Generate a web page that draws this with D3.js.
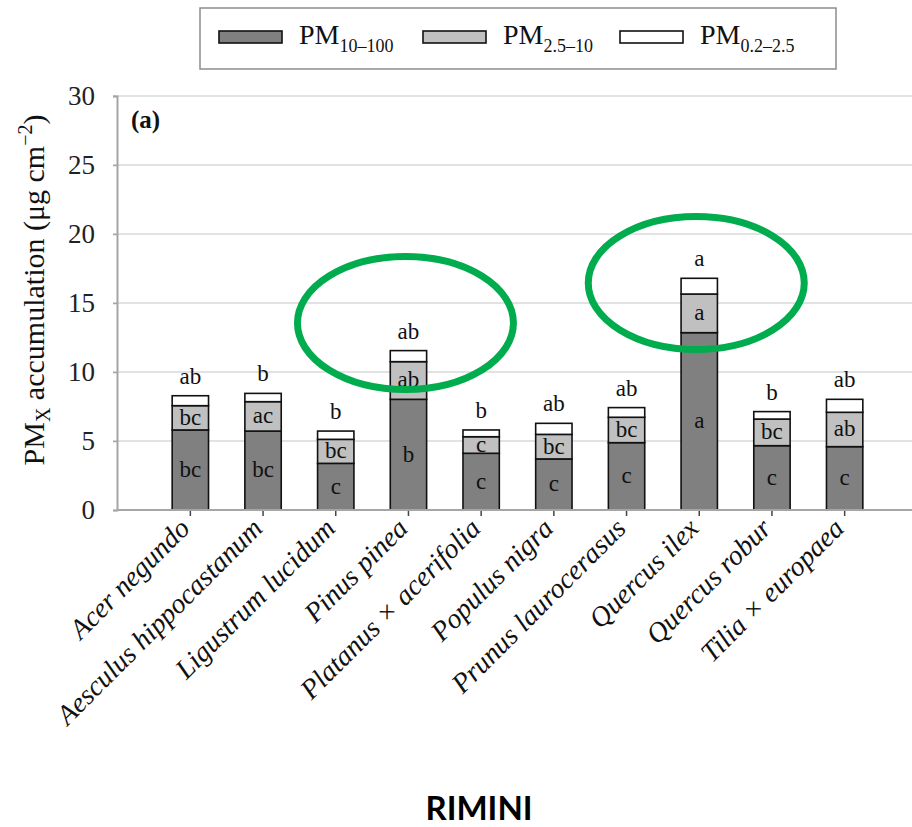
<!DOCTYPE html>
<html>
<head>
<meta charset="utf-8">
<script src="https://cdn.jsdelivr.net/npm/d3@7"></script>
<style>
  html, body { margin: 0; padding: 0; background: #fff; }
  svg { display: block; }
</style>
</head>
<body>
<svg id="chart" width="912" height="827"></svg>
<script>
// ---- data ----
const species = ["Acer negundo", "Aesculus hippocastanum", "Ligustrum lucidum", "Pinus pinea",
  "Platanus \u00d7 acerifolia", "Populus nigra", "Prunus laurocerasus", "Quercus ilex",
  "Quercus robur", "Tilia \u00d7 europaea"];
const pm10_100 = [5.80, 5.72, 3.38, 8.02, 4.11, 3.70, 4.88, 12.85, 4.66, 4.59];
const pm25_10  = [1.76, 2.13, 1.74, 2.73, 1.20, 1.78, 1.84, 2.80, 1.93, 2.49];
const pm02_25  = [0.72, 0.60, 0.60, 0.80, 0.49, 0.80, 0.70, 1.14, 0.54, 0.94];
const letters10_100 = ["bc", "bc", "c", "b", "c", "c", "c", "a", "c", "c"];
const letters25_10  = ["bc", "ac", "bc", "ab", "c", "bc", "bc", "a", "bc", "ab"];
const lettersTotal  = ["ab", "b", "b", "ab", "b", "ab", "ab", "a", "b", "ab"];
const yTicks = [0, 5, 10, 15, 20, 25, 30];
const seriesKeys = ["pm10_100", "pm25_10", "pm02_25"];
const seriesNames = [["PM", "10\u2013100"], ["PM", "2.5\u201310"], ["PM", "0.2\u20132.5"]];
const seriesColors = ["#808080", "#c0c0c0", "#ffffff"];
// highlighted species (annotation ellipses): [species, centre value]
const highlights = [["Pinus pinea", 13.55], ["Quercus ilex", 16.45]];

const rows = species.map((s, i) => ({
  species: s, pm10_100: pm10_100[i], pm25_10: pm25_10[i], pm02_25: pm02_25[i]
}));

const svg = d3.select("#chart");
const serif = "'Liberation Serif', 'DejaVu Serif', serif";

const x = d3.scaleBand().domain(species).range([154, 881]).paddingInner(0.5).paddingOuter(0.25);
const y = d3.scaleLinear().domain([0, 30]).range([510, 96]);
const plotLeft = 117, plotRight = 912;

// gridlines
svg.append("g").selectAll("line").data(yTicks.filter(d => d > 0)).join("line")
  .attr("x1", plotLeft - 4).attr("x2", plotRight)
  .attr("y1", d => y(d)).attr("y2", d => y(d))
  .attr("stroke", "#d9d9d9").attr("stroke-width", 1.5);

// y axis
const yAxis = svg.append("g").attr("transform", `translate(${plotLeft},0)`)
  .call(d3.axisLeft(y).tickValues(yTicks).tickSize(4).tickPadding(18));
yAxis.select(".domain").attr("stroke", "#a6a6a6").attr("stroke-width", 2);
yAxis.selectAll(".tick line").attr("stroke", "#a6a6a6").attr("stroke-width", 1.5);
yAxis.selectAll(".tick text").attr("font-family", serif).attr("font-size", 27).attr("fill", "#222");

// stacked bars
const stack = d3.stack().keys(seriesKeys);
const stacked = stack(rows);
const gBars = svg.append("g");
stacked.forEach((layer, li) => {
  gBars.append("g").selectAll("rect").data(layer).join("rect")
    .attr("x", d => x(d.data.species))
    .attr("width", x.bandwidth())
    .attr("y", d => y(d[1]))
    .attr("height", d => y(d[0]) - y(d[1]))
    .attr("fill", seriesColors[li])
    .attr("stroke", "#111").attr("stroke-width", 1.6);
});

// x axis
const xAxis = svg.append("g").attr("transform", `translate(0,${y(0)})`)
  .call(d3.axisBottom(x).tickSize(6).tickFormat(""));
xAxis.select(".domain").remove();
xAxis.selectAll(".tick line").attr("stroke", "#444").attr("stroke-width", 1.5);
svg.append("line").attr("x1", plotLeft).attr("x2", plotRight)
  .attr("y1", y(0)).attr("y2", y(0)).attr("stroke", "#a6a6a6").attr("stroke-width", 2);

// category labels
svg.append("g").selectAll("text").data(species).join("text")
  .attr("transform", d => `translate(${x(d) + x.bandwidth() / 2 + 1},${y(0) + 20}) rotate(-45)`)
  .attr("text-anchor", "end")
  .attr("font-family", serif).attr("font-style", "italic").attr("font-size", 28)
  .attr("fill", "#111")
  .text(d => d);

// letters inside segments
const gLet = svg.append("g").attr("font-family", serif).attr("font-size", 23)
  .attr("text-anchor", "middle").attr("fill", "#111");
rows.forEach((r, i) => {
  const cx = x(r.species) + x.bandwidth() / 2;
  const s0 = stacked[0][i], s1 = stacked[1][i], s2 = stacked[2][i];
  gLet.append("text").attr("x", cx).attr("y", (y(s0[0]) + y(s0[1])) / 2).attr("dy", "0.3em").text(letters10_100[i]);
  gLet.append("text").attr("x", cx).attr("y", (y(s1[0]) + y(s1[1])) / 2).attr("dy", "0.3em").text(letters25_10[i]);
  gLet.append("text").attr("x", cx).attr("y", y(s2[1]) - 12).text(lettersTotal[i]);
});

// (a) label
svg.append("text").attr("x", 131).attr("y", 128)
  .attr("font-family", serif).attr("font-weight", "bold").attr("font-size", 25).attr("fill", "#111")
  .text("(a)");

// y axis title
const yt = svg.append("text")
  .attr("transform", "translate(44,290) rotate(-90)")
  .attr("text-anchor", "middle")
  .attr("font-family", serif).attr("font-size", 30).attr("fill", "#111");
yt.append("tspan").text("PM");
yt.append("tspan").attr("font-size", 20).attr("dy", 6).text("X");
yt.append("tspan").attr("dy", -6).text(" accumulation (\u03bcg cm");
yt.append("tspan").attr("font-size", 20).attr("dy", -12).text("\u22122");
yt.append("tspan").attr("dy", 12).text(")");

// legend
const lg = svg.append("g");
lg.append("rect").attr("x", 200).attr("y", 8).attr("width", 636).attr("height", 61)
  .attr("fill", "#fff").attr("stroke", "#8c8c8c").attr("stroke-width", 1.5);
const legendX = [219, 423, 620];
seriesNames.forEach((n, i) => {
  lg.append("rect").attr("x", legendX[i]).attr("y", 31).attr("width", 63).attr("height", 12)
    .attr("fill", seriesColors[i]).attr("stroke", "#111").attr("stroke-width", 1.6);
  const t = lg.append("text").attr("x", legendX[i] + 80).attr("y", 44)
    .attr("font-family", serif).attr("font-size", 28).attr("fill", "#111");
  t.append("tspan").text(n[0]);
  t.append("tspan").attr("font-size", 18).attr("dy", 8).text(n[1]);
});

// annotation ellipses
svg.append("g").selectAll("ellipse").data(highlights).join("ellipse")
  .attr("cx", d => x(d[0]) + x.bandwidth() / 2 - 3)
  .attr("cy", d => y(d[1]))
  .attr("rx", 108).attr("ry", 66.5)
  .attr("fill", "none").attr("stroke", "#00ac4e").attr("stroke-width", 7);

// city title
svg.append("text").attr("x", 479).attr("y", 820).attr("text-anchor", "middle")
  .attr("font-family", "Lato, 'Open Sans', sans-serif").attr("font-weight", "bold")
  .attr("font-size", 33).attr("fill", "#000").text("RIMINI");
</script>
</body>
</html>
